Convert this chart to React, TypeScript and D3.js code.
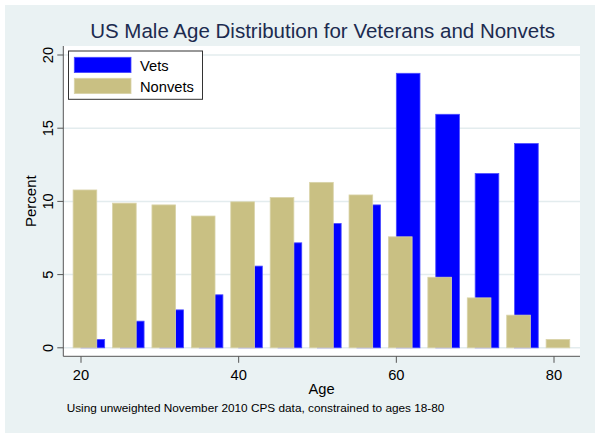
import React from "react";
import * as d3 from "d3";

const ages = [20, 25, 30, 35, 40, 45, 50, 55, 60, 65, 70, 75, 80];
const vets = [0.57, 1.82, 2.59, 3.62, 5.58, 7.17, 8.49, 9.76, 18.75, 15.95, 11.9, 13.95, 0];
const nonvets = [10.78, 9.88, 9.76, 9.0, 9.97, 10.26, 11.3, 10.44, 7.58, 4.82, 3.41, 2.23, 0.57];
const xTicks = [20, 40, 60, 80];
const yTicks = [0, 5, 10, 15, 20];
const seriesNames = ["Vets", "Nonvets"];
const seriesColors = ["#0000ff", "#c9c083"];
const seriesStroke = ["#4a4aff", "#d9d3a8"];

const title = "US Male Age Distribution for Veterans and Nonvets";
const note = "Using unweighted November 2010 CPS data, constrained to ages 18-80";

const FONT = "'Liberation Sans', Arial, Helvetica, sans-serif";

export default function App() {
  const W = 600, H = 438;
  const plot = { left: 63.3, right: 580, top: 46, bottom: 356.3 };
  const x = d3.scaleLinear().domain([20, 80]).range([81, 554]);
  const y = d3.scaleLinear().domain([0, 20]).range([347.8, 55]);
  const barW = 3;
  const bw = x(barW) - x(0);

  return (
    <svg width={W} height={H} style={{ position: "absolute", left: 0, top: 0 }} fontFamily={FONT}>
      <rect x={0} y={0} width={W} height={H} fill="#ffffff" />
      <rect x={5} y={5} width={590} height={428} fill="#eaf2f3" />
      <rect x={plot.left} y={plot.top} width={plot.right - plot.left} height={plot.bottom - plot.top} fill="#ffffff" />
      {/* gridlines */}
      {yTicks.map((t) => (
        <line key={"g" + t} x1={plot.left} x2={plot.right} y1={y(t)} y2={y(t)} stroke="#e3ecee" strokeWidth={1.5} />
      ))}
      {/* vets bars */}
      {ages.map((a, i) =>
        vets[i] > 0 ? (
          <rect key={"v" + a} x={x(a + 1.5) - bw / 2} y={y(vets[i])} width={bw} height={y(0) - y(vets[i])}
            fill={seriesColors[0]} stroke={seriesStroke[0]} strokeWidth={0.8} />
        ) : null
      )}
      {/* nonvets bars */}
      {ages.map((a, i) =>
        nonvets[i] > 0 ? (
          <rect key={"n" + a} x={x(a + 0.5) - bw / 2} y={y(nonvets[i])} width={bw} height={y(0) - y(nonvets[i])}
            fill={seriesColors[1]} stroke={seriesStroke[1]} strokeWidth={0.8} />
        ) : null
      )}
      {/* axes */}
      <line x1={plot.left} x2={plot.left} y1={plot.top} y2={plot.bottom} stroke="#555" strokeWidth={1} />
      <line x1={plot.left} x2={plot.right} y1={plot.bottom} y2={plot.bottom} stroke="#555" strokeWidth={1} />
      {yTicks.map((t) => (
        <g key={"yt" + t}>
          <line x1={plot.left - 6} x2={plot.left} y1={y(t)} y2={y(t)} stroke="#555" strokeWidth={1} />
          <text transform={`translate(${52.5},${y(t)}) rotate(-90)`} textAnchor="middle" fontSize={14.7} fill="#000">
            {t}
          </text>
        </g>
      ))}
      {xTicks.map((t) => (
        <g key={"xt" + t}>
          <line x1={x(t)} x2={x(t)} y1={plot.bottom} y2={plot.bottom + 6.5} stroke="#555" strokeWidth={1} />
          <text x={x(t)} y={380.3} textAnchor="middle" fontSize={14.7} fill="#000">
            {t}
          </text>
        </g>
      ))}
      <text x={(plot.left + plot.right) / 2} y={394} textAnchor="middle" fontSize={14.7} fill="#000">Age</text>
      <text transform={`translate(${35.5},${(plot.top + plot.bottom) / 2}) rotate(-90)`} textAnchor="middle" fontSize={15} fill="#000">
        Percent
      </text>
      <text x={(plot.left + plot.right) / 2 + 1} y={38} textAnchor="middle" fontSize={20.5} fill="#1c2b4f">{title}</text>
      <text x={66.7} y={412.3} fontSize={11.8} fill="#000">{note}</text>
      {/* legend */}
      <rect x={68.5} y={51} width={134} height={48.3} fill="#ffffff" stroke="#333" strokeWidth={1} />
      {seriesNames.map((s, i) => (
        <g key={s}>
          <rect x={74.3} y={57.3 + i * 21} width={56.7} height={15.3} fill={seriesColors[i]} stroke={seriesStroke[i]} strokeWidth={0.8} />
          <text x={140} y={71 + i * 21} fontSize={14.7} fill="#000">{s}</text>
        </g>
      ))}
    </svg>
  );
}
